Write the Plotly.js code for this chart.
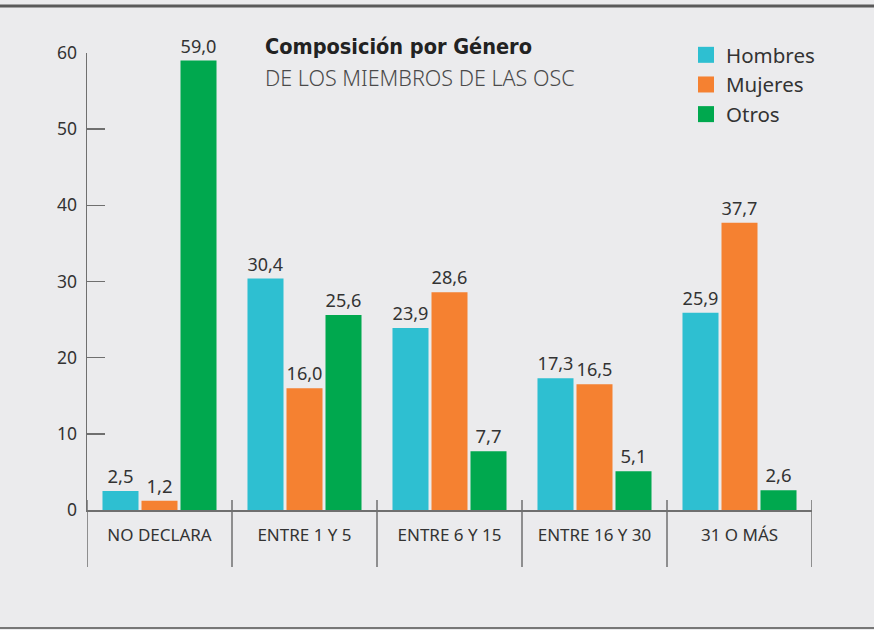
<!DOCTYPE html>
<html>
<head>
<meta charset="utf-8">
<script src="https://cdn.plot.ly/plotly-3.0.1.min.js"></script>
<style>html,body{margin:0;padding:0;background:#ebebed;}#chart{width:874px;height:630px;}</style>
</head>
<body>
<div id="chart"></div>
<script>
const categories = ["NO DECLARA", "ENTRE 1 Y 5", "ENTRE 6 Y 15", "ENTRE 16 Y 30", "31 O MÁS"];
const hombres = [2.5, 30.4, 23.9, 17.3, 25.9];
const mujeres = [1.2, 16.0, 28.6, 16.5, 37.7];
const otros = [59.0, 25.6, 7.7, 5.1, 2.6];
const seriesNames = ["Hombres", "Mujeres", "Otros"];
const colors = ["#2ebfd1", "#f58131", "#00a84e"];
const yTicks = [0, 10, 20, 30, 40, 50, 60];

const FONT = "Noto Sans, Open Sans, sans-serif";
const series = [hombres, mujeres, otros];

const traces = series.map((vals, i) => ({
  type: "bar",
  x: categories,
  y: vals,
  name: seriesNames[i],
  marker: {color: colors[i]},
  texttemplate: "%{y:.1f}",
  textposition: "outside",
  textfont: {family: FONT, size: 18.5, color: "#333"},
  cliponaxis: false,
  showlegend: false,
  hoverinfo: "none"
}));
// legend entries with larger square swatches
seriesNames.forEach((n, i) => traces.push({
  type: "scatter", mode: "markers", x: [null], y: [null], name: n,
  marker: {symbol: "square", size: 20, color: colors[i]},
  showlegend: true, hoverinfo: "none"
}));

const L = 87, R = 62, T = 53, B = 120, W = 874, H = 630;
const pw = W - L - R, ph = H - T - B;
const py = p => (H - B - p) / ph;   // pixel y -> paper y
const px = p => (p - L) / pw;       // pixel x -> paper x

const shapes = [];
for (let k = 0; k <= categories.length; k++) {
  shapes.push({type: "line", xref: "x", yref: "paper", x0: k - 0.5, x1: k - 0.5,
    y0: py(500), y1: py(567), line: {color: "#6f6f6f", width: 1.5}});
}
shapes.push({type: "line", xref: "paper", yref: "paper", x0: px(0), x1: px(874), y0: py(6), y1: py(6), line: {color: "#5a5a5a", width: 3}});
shapes.push({type: "line", xref: "paper", yref: "paper", x0: px(0), x1: px(874), y0: py(628), y1: py(628), line: {color: "#777", width: 2}});

const layout = {
  width: W, height: H,
  margin: {l: L, r: R, t: T, b: B, pad: 0},
  paper_bgcolor: "#ebebed",
  plot_bgcolor: "#ebebed",
  separators: ",.",
  barmode: "group",
  bargap: 0.193,
  bargroupgap: 0.077,
  showlegend: true,
  legend: {x: px(686), y: py(35), xanchor: "left", yanchor: "top", bgcolor: "rgba(0,0,0,0)",
    font: {family: FONT, size: 20.5, color: "#333"}, itemwidth: 30, tracegroupgap: 0},
  xaxis: {
    type: "category", range: [-0.5, 4.5], showline: true, linecolor: "#6f6f6f", linewidth: 1.5,
    ticks: "", showgrid: false, zeroline: false, fixedrange: true,
    tickfont: {family: FONT, size: 17, color: "#333"}, ticklabelstandoff: 9
  },
  yaxis: {
    range: [0, 60], tickvals: yTicks, showline: true, linecolor: "#6f6f6f", linewidth: 1.5,
    ticks: "inside", ticklen: 18, tickwidth: 1.5, tickcolor: "#6f6f6f",
    showgrid: false, zeroline: false, fixedrange: true,
    tickfont: {family: FONT, size: 17.5, color: "#333"}, ticklabelstandoff: 5
  },
  shapes: shapes,
  annotations: [
    {xref: "paper", yref: "paper", x: px(263), y: py(61), xanchor: "left", yanchor: "bottom", showarrow: false,
     text: "<b>Composición por Género</b>",
     font: {family: "Liberation Sans Narrow, DejaVu Sans Condensed, DejaVu Sans, sans-serif", size: 21.5, color: "#222", stretch: "condensed"}},
    {xref: "paper", yref: "paper", x: px(263), y: py(94), xanchor: "left", yanchor: "bottom", showarrow: false,
     text: "DE LOS MIEMBROS DE LAS OSC", font: {family: FONT, size: 21.5, color: "#4a4a4a", weight: 300}}
  ]
};

Plotly.newPlot("chart", traces, layout, {displayModeBar: false, staticPlot: true});
</script>
</body>
</html>
